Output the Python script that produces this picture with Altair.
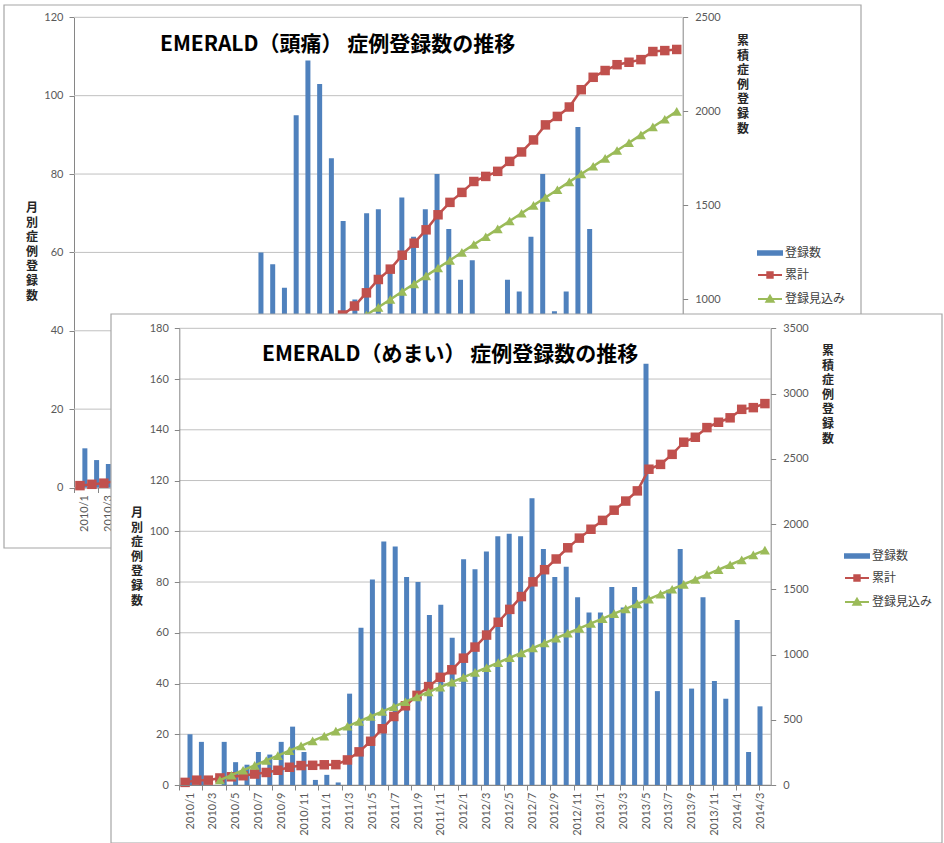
import json
import altair as alt
import pandas as pd

# ---------------- data ----------------
months = [
    "2010/1", "2010/2", "2010/3", "2010/4", "2010/5", "2010/6", "2010/7", "2010/8", "2010/9", "2010/10", "2010/11", "2010/12",
    "2011/1", "2011/2", "2011/3", "2011/4", "2011/5", "2011/6", "2011/7", "2011/8", "2011/9", "2011/10", "2011/11", "2011/12",
    "2012/1", "2012/2", "2012/3", "2012/4", "2012/5", "2012/6", "2012/7", "2012/8", "2012/9", "2012/10", "2012/11", "2012/12",
    "2013/1", "2013/2", "2013/3", "2013/4", "2013/5", "2013/6", "2013/7", "2013/8", "2013/9", "2013/10", "2013/11", "2013/12",
    "2014/1", "2014/2", "2014/3",
]
series_names = ["登録数", "累計", "登録見込み"]
series_colors = ["#4F81BD", "#C0504D", "#9BBB59"]
plan_start = "2010/4"

# EMERALD (頭痛) -- back chart
head_monthly = [10, 7, 6, 12, 15, 18, 20, 17, 22, 25, 24, 20,
                28, 30, 36, 60, 57, 51, 95, 109, 103, 84, 68, 48,
                70, 71, 55, 74, 64, 71, 80, 66, 53, 58, 27, 27,
                53, 50, 64, 80, 45, 50, 92, 66, 36, 31, 13, 14,
                43, 5, 6]
head_cumulative = [10, 17, 23, 35, 50, 68, 88, 105, 127, 152, 176, 196,
                   224, 254, 290, 350, 407, 458, 553, 662, 765, 849, 917, 965,
                   1035, 1106, 1161, 1235, 1299, 1370, 1450, 1516, 1569, 1627, 1654, 1681,
                   1734, 1784, 1848, 1928, 1973, 2023, 2115, 2181, 2217, 2248, 2261, 2275,
                   2318, 2323, 2329]
head_plan = [42, 83, 125, 167, 208, 250, 292, 333, 375, 417, 458, 500,
             542, 583, 625, 667, 708, 750, 792, 833, 875, 917, 958, 1000,
             1042, 1083, 1125, 1167, 1208, 1250, 1292, 1333, 1375, 1417, 1458, 1500,
             1542, 1583, 1625, 1667, 1708, 1750, 1792, 1833, 1875, 1917, 1958, 2000]
head_left_ticks = [0, 20, 40, 60, 80, 100, 120]
head_right_ticks = [0, 500, 1000, 1500, 2000, 2500]
head_title = "EMERALD（頭痛） 症例登録数の推移"

# EMERALD (めまい) -- front chart
dizzy_monthly = [20, 17, 0, 17, 9, 8, 13, 12, 17, 23, 13, 2,
                 4, 1, 36, 62, 81, 96, 94, 82, 80, 67, 71, 58,
                 89, 85, 92, 98, 99, 98, 113, 93, 82, 86, 74, 68,
                 68, 78, 70, 78, 166, 37, 77, 93, 38, 74, 41, 34,
                 65, 13, 31]
dizzy_cumulative = [20, 37, 37, 54, 63, 71, 84, 96, 113, 136, 149, 151,
                    155, 156, 192, 254, 335, 431, 525, 607, 687, 754, 825, 883,
                    972, 1057, 1149, 1247, 1346, 1444, 1557, 1650, 1732, 1818, 1892, 1960,
                    2028, 2106, 2176, 2254, 2420, 2457, 2534, 2627, 2665, 2739, 2780, 2814,
                    2879, 2892, 2923]
dizzy_plan = [38, 75, 113, 150, 188, 225, 263, 300, 338, 375, 413, 450,
              488, 525, 563, 600, 638, 675, 713, 750, 788, 825, 863, 900,
              938, 975, 1013, 1050, 1088, 1125, 1163, 1200, 1238, 1275, 1313, 1350,
              1388, 1425, 1463, 1500, 1538, 1575, 1613, 1650, 1688, 1725, 1763, 1800]
dizzy_left_ticks = [0, 20, 40, 60, 80, 100, 120, 140, 160, 180]
dizzy_right_ticks = [0, 500, 1000, 1500, 2000, 2500, 3000, 3500]
dizzy_title = "EMERALD（めまい） 症例登録数の推移"

left_axis_title = "月別症例登録数"
right_axis_title = "累積症例登録数"

# ---------------- layout (pixels) ----------------
W, H = 944, 843
HEAD = dict(box=(4, 5, 861, 548), fill=False, x0=74, x1=682.7, top=17.3, bottom=487.5,
            title=(160, 45), ltitle=(32, 203), rtitle=(743, 36), legend=(763, 246), z=0)
DIZZY = dict(box=(111, 314, 942, 843), fill=True, x0=179.3, x1=770.7, top=328.3, bottom=785,
             title=(262, 355), ltitle=(137, 508), rtitle=(828, 346), legend=(850, 549), z=1)

CJK = "Noto Sans CJK JP"
LATIN = "Lato"
one_row = pd.DataFrame({"k": [0]})
n = len(months)
idx = list(range(n))
p0 = months.index(plan_start)

symbol_paths = [
    "M-2,-0.3H2V0.3H-2Z",
    "M-2,0H2M-0.45,-0.45H0.45V0.45H-0.45Z",
    "M-2,0H2M0,-0.55L0.6,0.45H-0.6Z",
]


def axis_base(z):
    return dict(labelFont=LATIN, labelFontSize=11, labelColor="#595959",
                domainColor="#868686", tickColor="#868686", domainWidth=1, tickWidth=1,
                grid=False, title=None, zindex=z, labelOverlap=False, labelFlush=False)


def panel(g, monthly, cumulative, plan, left_ticks, right_ticks, title):
    z = g["z"]
    xs = alt.Scale(domain=[-0.5, n - 0.5], range=[g["x0"], g["x1"]], nice=False, zero=False)
    yl = alt.Scale(domain=[left_ticks[0], left_ticks[-1]], range=[g["bottom"], g["top"]], nice=False, zero=False)
    yr = alt.Scale(domain=[right_ticks[0], right_ticks[-1]], range=[g["bottom"], g["top"]], nice=False, zero=False)

    df = pd.DataFrame({"i": idx, "month": months, "monthly": monthly, "cum": cumulative})
    plan_df = pd.DataFrame({"i": idx[p0:], "plan": plan})
    grid_df = pd.DataFrame({"v": left_ticks, "xa": [-0.5] * len(left_ticks), "xb": [n - 0.5] * len(left_ticks)})

    bx0, by0, bx1, by1 = g["box"]
    frame = alt.Chart(one_row).mark_rect(fill="white", fillOpacity=1 if g["fill"] else 0,
                                         stroke="#A6A6A6", strokeWidth=1.2).encode(
        x=alt.value(bx0), x2=alt.value(bx1), y=alt.value(by0), y2=alt.value(by1))

    boundaries = [b - 0.5 for b in range(0, n + 1, 2)]
    grid = alt.Chart(grid_df).mark_rule(color="#C0C0C0", strokeWidth=1).encode(
        x=alt.X("xa:Q", scale=xs, axis=alt.Axis(orient="bottom", offset=g["bottom"] - H, values=boundaries,
                                                 labels=False, ticks=True, tickSize=5, domain=True, **axis_base(z))),
        x2="xb:Q",
        y=alt.Y("v:Q", scale=yl, axis=alt.Axis(orient="left", offset=-g["x0"], values=left_ticks, format="d",
                                                ticks=True, tickSize=5, labelPadding=6, domain=True, **axis_base(z))),
    )

    label_expr = json.dumps(months) + "[datum.value]"
    bars = alt.Chart(df).mark_bar(size=5, color=series_colors[0], orient="vertical").encode(
        x=alt.X("i:Q", scale=xs, axis=alt.Axis(orient="bottom", offset=g["bottom"] - H, values=list(range(0, n, 2)),
                                                labelExpr=label_expr, labelAngle=-90, ticks=False, tickSize=0,
                                                domain=False, labelPadding=7, **axis_base(z))),
        y=alt.Y("monthly:Q", scale=yl, axis=None),
    )

    cum_line = alt.Chart(df).mark_line(color=series_colors[1], strokeWidth=2.5).encode(
        x=alt.X("i:Q", scale=xs, axis=None),
        y=alt.Y("cum:Q", scale=yr, axis=alt.Axis(orient="right", offset=g["x1"] - W, values=right_ticks, format="d",
                                                  ticks=True, tickSize=5, labelPadding=7, domain=True, **axis_base(z))),
    )
    cum_pts = alt.Chart(df).mark_point(shape="square", size=90, filled=True, color=series_colors[1], opacity=1).encode(
        x=alt.X("i:Q", scale=xs, axis=None), y=alt.Y("cum:Q", scale=yr, axis=None))

    plan_line = alt.Chart(plan_df).mark_line(color=series_colors[2], strokeWidth=2.5).encode(
        x=alt.X("i:Q", scale=xs, axis=None), y=alt.Y("plan:Q", scale=yr, axis=None))
    plan_pts = alt.Chart(plan_df).mark_point(shape="triangle-up", size=100, filled=True, color=series_colors[2], opacity=1).encode(
        x=alt.X("i:Q", scale=xs, axis=None), y=alt.Y("plan:Q", scale=yr, axis=None))

    title_txt = alt.Chart(one_row).mark_text(text=title, font=CJK, fontSize=21, fontWeight="bold", color="#000000",
                                              align="left", baseline="middle").encode(
        x=alt.value(g["title"][0]), y=alt.value(g["title"][1]))
    ltitle = alt.Chart(one_row).mark_text(text=list(left_axis_title), font=CJK, fontSize=12, fontWeight="bold",
                                          color="#262626", align="center", baseline="top", lineHeight=14.6).encode(
        x=alt.value(g["ltitle"][0]), y=alt.value(g["ltitle"][1]))
    rtitle = alt.Chart(one_row).mark_text(text=list(right_axis_title), font=CJK, fontSize=12, fontWeight="bold",
                                          color="#262626", align="center", baseline="top", lineHeight=14.6).encode(
        x=alt.value(g["rtitle"][0]), y=alt.value(g["rtitle"][1]))

    leg = alt.Legend(orient="none", legendX=g["legend"][0], legendY=g["legend"][1], title=None,
                     symbolSize=144, symbolStrokeWidth=2, labelFont=CJK, labelFontSize=12, labelColor="#404040",
                     labelOffset=8, rowPadding=9, padding=0, symbolOpacity=1)
    legend_df = pd.DataFrame({"series": series_names})
    legend_layer = alt.Chart(legend_df).transform_filter("false").mark_point(opacity=1).encode(
        fill=alt.Fill("series:N", scale=alt.Scale(domain=series_names, range=series_colors), legend=leg),
        stroke=alt.Stroke("series:N", scale=alt.Scale(domain=series_names, range=series_colors), legend=leg),
        shape=alt.Shape("series:N", scale=alt.Scale(domain=series_names, range=symbol_paths), legend=leg),
    )
    return [frame, grid, bars, cum_line, cum_pts, plan_line, plan_pts, title_txt, ltitle, rtitle, legend_layer]


layers = (panel(HEAD, head_monthly, head_cumulative, head_plan, head_left_ticks, head_right_ticks, head_title)
          + panel(DIZZY, dizzy_monthly, dizzy_cumulative, dizzy_plan, dizzy_left_ticks, dizzy_right_ticks, dizzy_title))

chart = alt.layer(*layers).resolve_scale(
    x="independent", y="independent", fill="independent", stroke="independent", shape="independent"
).properties(
    width=W, height=H, padding=0, background="white",
    autosize=alt.AutoSizeParams(type="none"),
).configure_view(stroke=None)

chart.save("out.html", embed_options={"renderer": "svg", "actions": False})
